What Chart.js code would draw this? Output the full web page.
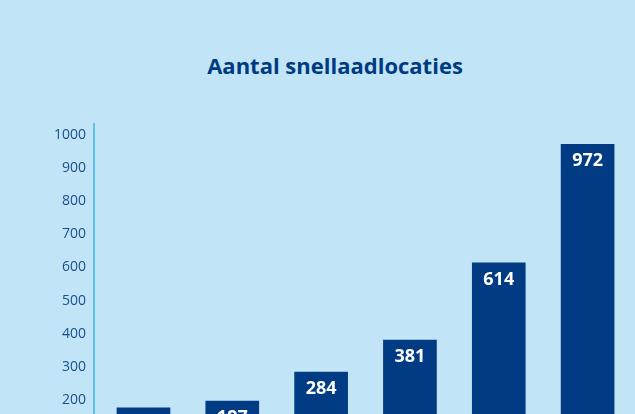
<!DOCTYPE html>
<html lang="nl">
<head>
<meta charset="utf-8">
<title>Aantal snellaadlocaties</title>
<script src="https://cdn.jsdelivr.net/npm/chart.js@4/dist/chart.umd.min.js"></script>
<style>
  html, body { margin: 0; padding: 0; background: #c1e5f7; overflow: hidden; }
  #wrap { position: relative; width: 635px; height: 414px; overflow: hidden; }
  #title {
    position: absolute; left: 35px; width: 600px; top: 50px;
    text-align: center; font-family: "Open Sans", sans-serif; font-weight: 700;
    font-size: 22px; color: #003a80;
  }
  canvas { position: absolute; left: 0; top: 0; }
</style>
</head>
<body>
<div id="wrap">
  <div id="title">Aantal snellaadlocaties</div>
  <canvas id="myChart" width="635" height="520"></canvas>
</div>
<script>
// categories are below the visible area in the reference
const years = ['2017', '2018', '2019', '2020', '2021', '2022'];
const locations = [176, 197, 284, 381, 614, 972];
const yTicks = [0, 100, 200, 300, 400, 500, 600, 700, 800, 900, 1000];

const barColor = '#003b84';
const textColor = '#1b4e8e';

// white value labels inside the top of each bar
const valueLabels = {
  id: 'valueLabels',
  afterDatasetsDraw(chart) {
    const ctx = chart.ctx;
    const meta = chart.getDatasetMeta(0);
    ctx.save();
    ctx.fillStyle = '#ffffff';
    ctx.font = 'bold 18px "Open Sans", sans-serif';
    ctx.textAlign = 'center';
    ctx.textBaseline = 'middle';
    meta.data.forEach((bar, i) => {
      ctx.fillText(String(locations[i]), bar.x, bar.y + 17);
    });
    ctx.restore();
  }
};

function drawChart() {
  const ctx = document.getElementById('myChart').getContext('2d');
  new Chart(ctx, {
    type: 'bar',
    data: {
      datasets: [{
        label: 'Aantal snellaadlocaties',
        data: locations.map((v, i) => ({ x: i, y: v })),
        backgroundColor: barColor,
        borderWidth: 0,
        barThickness: 53
      }]
    },
    options: {
      responsive: false,
      animation: false,
      devicePixelRatio: 1,
      layout: { padding: { top: 124, right: 3, left: 0, bottom: 0 } },
      plugins: {
        legend: { display: false },
        tooltip: { enabled: false }
      },
      scales: {
        x: {
          type: 'linear',
          offset: false,
          min: -0.557,
          max: 5.5,
          grid: { display: false, offset: false },
          border: { display: false },
          afterBuildTicks: s => { s.ticks = years.map((y, i) => ({ value: i })); },
          afterFit: s => { s.height = 53.75; },
          ticks: {
            color: textColor,
            font: { family: '"Open Sans", sans-serif', size: 14 },
            callback: v => years[v]
          }
        },
        y: {
          min: 0,
          max: 1033,
          grid: { display: false, drawTicks: false },
          border: { display: true, color: '#5ec0ee', width: 2 },
          afterBuildTicks: s => { s.ticks = yTicks.map(v => ({ value: v })); },
          afterFit: s => { s.width = 94; },
          ticks: {
            color: textColor,
            padding: 8,
            font: { family: '"Open Sans", sans-serif', size: 14 },
            callback: v => String(v)
          }
        }
      }
    },
    plugins: [valueLabels]
  });
}

drawChart();
</script>
</body>
</html>
